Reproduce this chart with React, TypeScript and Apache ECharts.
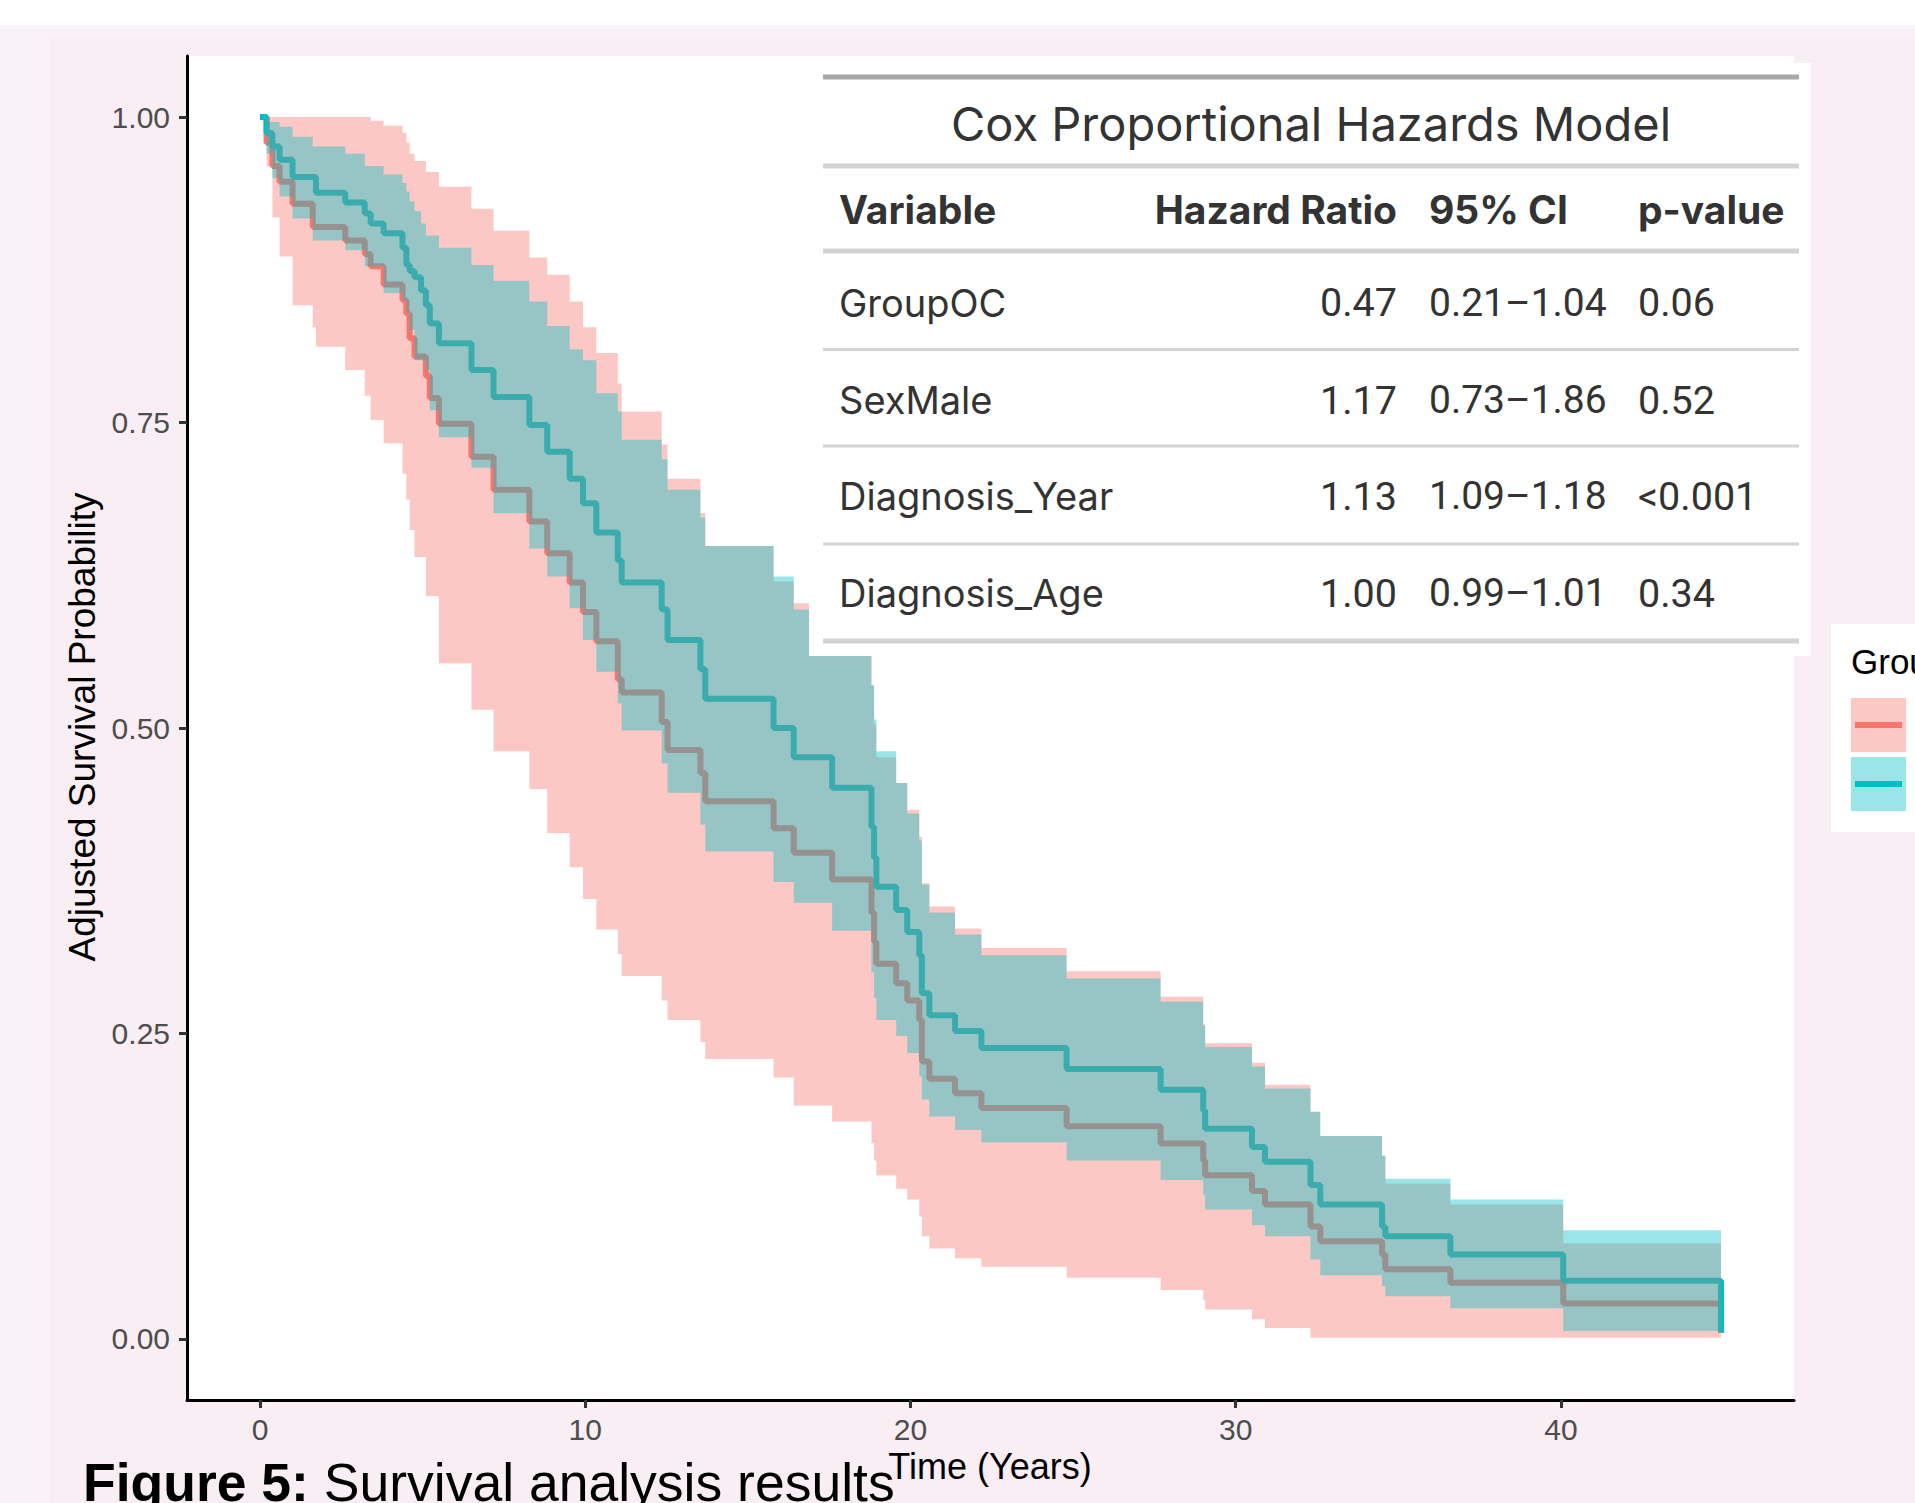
import React, { useEffect, useRef } from "react";
import * as echarts from "echarts";

// ---- Data ----
const times = [0, 0.2, 0.38, 0.6, 1.0, 1.62, 1.72, 2.62, 3.22, 3.4, 3.8, 4.38, 4.5, 4.6, 4.75, 4.95, 5.1, 5.22, 5.5, 6.5, 7.18, 8.28, 8.83, 9.52, 9.93, 10.34, 11.0, 11.12, 12.35, 12.53, 13.54, 13.69, 15.79, 16.41, 16.9, 17.59, 18.8, 18.88, 18.95, 19.56, 19.9, 20.27, 20.35, 20.58, 21.37, 22.18, 24.8, 27.69, 29.0, 29.06, 30.5, 30.9, 32.3, 32.6, 34.5, 34.6, 36.6, 40.07, 44.92];

const redSurv = [1.0, 0.979, 0.96, 0.947, 0.929, 0.91, 0.91, 0.899, 0.888, 0.878, 0.863, 0.85, 0.839, 0.819, 0.804, 0.804, 0.788, 0.77, 0.749, 0.722, 0.695, 0.669, 0.643, 0.619, 0.595, 0.571, 0.54, 0.529, 0.505, 0.482, 0.463, 0.44, 0.418, 0.398, 0.398, 0.376, 0.349, 0.325, 0.307, 0.291, 0.277, 0.261, 0.227, 0.213, 0.201, 0.189, 0.174, 0.16, 0.146, 0.134, 0.121, 0.11, 0.092, 0.08, 0.069, 0.057, 0.046, 0.029, 0.005];
const redUpper = [1.0, 1.0, 1.0, 1.0, 1.0, 1.0, 1.0, 1.0, 1.0, 0.997, 0.993, 0.987, 0.979, 0.97, 0.964, 0.964, 0.955, 0.955, 0.943, 0.925, 0.907, 0.885, 0.871, 0.849, 0.828, 0.807, 0.782, 0.759, 0.732, 0.704, 0.676, 0.649, 0.62, 0.602, 0.575, 0.565, 0.535, 0.503, 0.476, 0.455, 0.433, 0.411, 0.373, 0.354, 0.336, 0.32, 0.301, 0.28, 0.258, 0.242, 0.226, 0.208, 0.186, 0.166, 0.15, 0.127, 0.11, 0.078, 0.078];
const redLower = [1.0, 0.96, 0.918, 0.886, 0.846, 0.828, 0.812, 0.793, 0.772, 0.752, 0.733, 0.708, 0.687, 0.662, 0.64, 0.64, 0.608, 0.608, 0.553, 0.515, 0.481, 0.45, 0.414, 0.386, 0.36, 0.335, 0.315, 0.297, 0.277, 0.261, 0.243, 0.229, 0.214, 0.191, 0.191, 0.178, 0.16, 0.146, 0.134, 0.123, 0.114, 0.1, 0.084, 0.074, 0.066, 0.059, 0.05, 0.04, 0.032, 0.024, 0.016, 0.009, 0.001, 0.001, 0.001, 0.001, 0.001, 0.001, 0.001];

const tealSurv = [1.0, 0.987, 0.976, 0.965, 0.951, 0.951, 0.938, 0.93, 0.921, 0.913, 0.905, 0.893, 0.879, 0.874, 0.869, 0.858, 0.846, 0.831, 0.815, 0.793, 0.771, 0.748, 0.726, 0.704, 0.684, 0.66, 0.637, 0.619, 0.597, 0.572, 0.548, 0.524, 0.5, 0.476, 0.476, 0.451, 0.419, 0.394, 0.37, 0.351, 0.333, 0.314, 0.283, 0.265, 0.252, 0.238, 0.221, 0.204, 0.187, 0.172, 0.157, 0.145, 0.126, 0.11, 0.092, 0.084, 0.069, 0.0475, 0.005];
const tealUpper = [1.0, 0.996, 0.996, 0.992, 0.984, 0.976, 0.976, 0.97, 0.96, 0.96, 0.953, 0.946, 0.939, 0.931, 0.923, 0.913, 0.903, 0.903, 0.893, 0.879, 0.866, 0.849, 0.829, 0.81, 0.801, 0.774, 0.759, 0.736, 0.72, 0.695, 0.672, 0.649, 0.624, 0.597, 0.572, 0.565, 0.535, 0.507, 0.481, 0.455, 0.43, 0.408, 0.372, 0.349, 0.331, 0.314, 0.295, 0.276, 0.256, 0.239, 0.223, 0.205, 0.186, 0.166, 0.15, 0.131, 0.114, 0.089, 0.089];
const tealLower = [1.0, 0.97, 0.95, 0.935, 0.917, 0.899, 0.899, 0.891, 0.878, 0.878, 0.856, 0.85, 0.84, 0.826, 0.801, 0.801, 0.793, 0.76, 0.738, 0.713, 0.676, 0.647, 0.624, 0.598, 0.572, 0.546, 0.52, 0.498, 0.471, 0.447, 0.421, 0.399, 0.374, 0.357, 0.357, 0.334, 0.3, 0.279, 0.261, 0.248, 0.234, 0.215, 0.196, 0.182, 0.171, 0.161, 0.146, 0.13, 0.118, 0.106, 0.093, 0.084, 0.065, 0.052, 0.043, 0.035, 0.025, 0.0065, 0.0065];

const xTicks = [0, 10, 20, 30, 40];
const yTicks = [0, 0.25, 0.5, 0.75, 1.0];

const tableTitle = "Cox Proportional Hazards Model";
const tableHeaders = ["Variable", "Hazard Ratio", "95% CI", "p-value"];
const tableVariables = ["GroupOC", "SexMale", "Diagnosis_Year", "Diagnosis_Age"];
const hazardRatios = ["0.47", "1.17", "1.13", "1.00"];
const ciTexts = ["0.21\u20131.04", "0.73\u20131.86", "1.09\u20131.18", "0.99\u20131.01"];
const pValues = ["0.06", "0.52", "<0.001", "0.34"];

const RED = "#F8766D";
const TEAL = "#00BFC4";

function bandSeries(name: string, lo: number[], hi: number[], fill: string, z: number) {
  return {
    type: "custom",
    name,
    z,
    silent: true,
    data: times.map((t, i) => [t, lo[i], hi[i]]),
    encode: { x: 0, y: [1, 2] },
    renderItem: (params: any, api: any) => {
      if (params.dataIndex !== 0) return null;
      const pts: number[][] = [];
      for (let i = 0; i < times.length - 1; i++) {
        pts.push(api.coord([times[i], hi[i]]));
        pts.push(api.coord([times[i + 1], hi[i]]));
      }
      for (let i = times.length - 2; i >= 0; i--) {
        pts.push(api.coord([times[i + 1], lo[i]]));
        pts.push(api.coord([times[i], lo[i]]));
      }
      return { type: "polygon", shape: { points: pts }, style: { fill } };
    },
  };
}

function lineSeries(name: string, vals: number[], color: string, z: number) {
  return {
    type: "line",
    name,
    z,
    step: "end",
    symbol: "none",
    silent: true,
    data: times.map((t, i) => [t, vals[i]]),
    lineStyle: { color, width: 6 },
  };
}

export default function App() {
  const ref = useRef<HTMLDivElement>(null);
  useEffect(() => {
    document.body.style.margin = "0";
    const chart = echarts.init(ref.current!, undefined, { renderer: "svg" });

    const TF = "Inter, 'Noto Sans', sans-serif";
    const NF = "Roboto, Inter, sans-serif";
    const PF = "'Liberation Sans', Arial, sans-serif";
    const rowY = [302.5, 400, 496, 593];
    const graphic: any[] = [];
    // backgrounds
    graphic.push({ type: "rect", z: -100, shape: { x: 0, y: 0, width: 1915, height: 25 }, style: { fill: "#ffffff" } });
    graphic.push({ type: "rect", z: -99, shape: { x: 49, y: 37, width: 1866, height: 1466 }, style: { fill: "#F8EEF4" } });
    // table box
    graphic.push({ type: "rect", z: 100, shape: { x: 809, y: 63, width: 1002, height: 593 }, style: { fill: "#ffffff" } });
    const hl = (y: number, h: number, c: string) =>
      graphic.push({ type: "rect", z: 101, shape: { x: 823, y: y - h / 2, width: 976, height: h }, style: { fill: c } });
    hl(77, 5, "#A8A8A8");
    hl(166, 5, "#D3D3D3");
    hl(251, 5, "#D3D3D3");
    hl(349.5, 3, "#D3D3D3");
    hl(446, 3, "#D3D3D3");
    hl(544, 3, "#D3D3D3");
    hl(641, 5, "#D3D3D3");
    const txt = (text: string, x: number, y: number, align: string, size: number, weight: string, family: string = TF) =>
      graphic.push({
        type: "text", z: 102, x, y,
        style: { text, fill: "#333333", fontSize: size, fontFamily: family, fontWeight: weight, align, verticalAlign: "middle" },
      });
    txt(tableTitle, 1311, 123, "center", 47, "normal");
    txt(tableHeaders[0], 839, 209, "left", 39, "bold");
    txt(tableHeaders[1], 1397, 209, "right", 39, "bold");
    txt(tableHeaders[2], 1429, 209, "left", 39, "bold");
    txt(tableHeaders[3], 1638, 209, "left", 39, "bold");
    tableVariables.forEach((v, i) => {
      txt(v, 839, rowY[i], "left", 38, "normal");
      txt(hazardRatios[i], 1397, rowY[i], "right", 39.5, "normal", NF);
      txt(ciTexts[i], 1429, rowY[i], "left", 39, "normal", NF);
      txt(pValues[i], 1638, rowY[i], "left", 39.5, "normal", NF);
    });
    // legend
    graphic.push({ type: "rect", z: 100, shape: { x: 1831, y: 624, width: 90, height: 208 }, style: { fill: "#ffffff" } });
    graphic.push({ type: "text", z: 101, x: 1851, y: 661, style: { text: "Group", fill: "#000", fontSize: 35, fontFamily: PF, verticalAlign: "middle" } });
    graphic.push({ type: "rect", z: 101, shape: { x: 1851, y: 698, width: 55, height: 54 }, style: { fill: "rgba(248,118,109,0.4)" } });
    graphic.push({ type: "line", z: 102, shape: { x1: 1855, y1: 725, x2: 1902, y2: 725 }, style: { stroke: RED, lineWidth: 6 } });
    graphic.push({ type: "rect", z: 101, shape: { x: 1851, y: 757, width: 55, height: 54 }, style: { fill: "rgba(0,191,196,0.4)" } });
    graphic.push({ type: "line", z: 102, shape: { x1: 1855, y1: 784, x2: 1902, y2: 784 }, style: { stroke: TEAL, lineWidth: 6 } });
    // axis titles
    graphic.push({ type: "text", z: 5, x: 82, y: 727, rotation: Math.PI / 2, style: { text: "Adjusted Survival Probability", fill: "#000", fontSize: 37, fontFamily: PF, align: "center", verticalAlign: "middle" } });
    graphic.push({ type: "text", z: 5, x: 990, y: 1466, style: { text: "Time (Years)", fill: "#000", fontSize: 36, fontFamily: PF, align: "center", verticalAlign: "middle" } });
    // caption
    graphic.push({
      type: "text", z: 6, x: 83, y: 1482,
      style: {
        text: "{b|Figure 5:} Survival analysis results",
        fill: "#000", fontSize: 53.5, fontFamily: PF, verticalAlign: "middle",
        rich: { b: { fontWeight: "bold", fontSize: 53.5, fontFamily: PF, fill: "#000" } },
      },
    });

    const option: any = {
      animation: false,
      backgroundColor: "#FAF2F6",
      grid: { left: 187, top: 56, width: 1607, height: 1344, show: true, backgroundColor: "#ffffff", borderWidth: 0 },
      xAxis: {
        type: "value", min: -2.246, max: 47.166,
        axisLine: { show: true, onZero: false, lineStyle: { color: "#000", width: 3 } },
        axisTick: { show: true, customValues: xTicks, length: 8, lineStyle: { color: "#333", width: 3 } },
        axisLabel: { customValues: xTicks, color: "#4D4D4D", fontSize: 30, fontFamily: PF, margin: 14 },
        splitLine: { show: false },
      },
      yAxis: {
        type: "value", min: -0.05, max: 1.05,
        axisLine: { show: true, onZero: false, lineStyle: { color: "#000", width: 3 } },
        axisTick: { show: true, customValues: yTicks, length: 8, lineStyle: { color: "#333", width: 3 } },
        axisLabel: { customValues: yTicks, color: "#4D4D4D", fontSize: 30, fontFamily: PF, margin: 17, formatter: (v: number) => v.toFixed(2) },
        splitLine: { show: false },
      },
      series: [
        lineSeries("Red group", redSurv, RED, 2),
        lineSeries("Teal group", tealSurv, TEAL, 3),
        bandSeries("Red CI", redLower, redUpper, "rgba(248,118,109,0.4)", 4),
        bandSeries("Teal CI", tealLower, tealUpper, "rgba(0,191,196,0.4)", 5),
      ],
      graphic,
    };
    chart.setOption(option);
    return () => chart.dispose();
  }, []);
  return <div ref={ref} style={{ width: 1915, height: 1503 }} />;
}
